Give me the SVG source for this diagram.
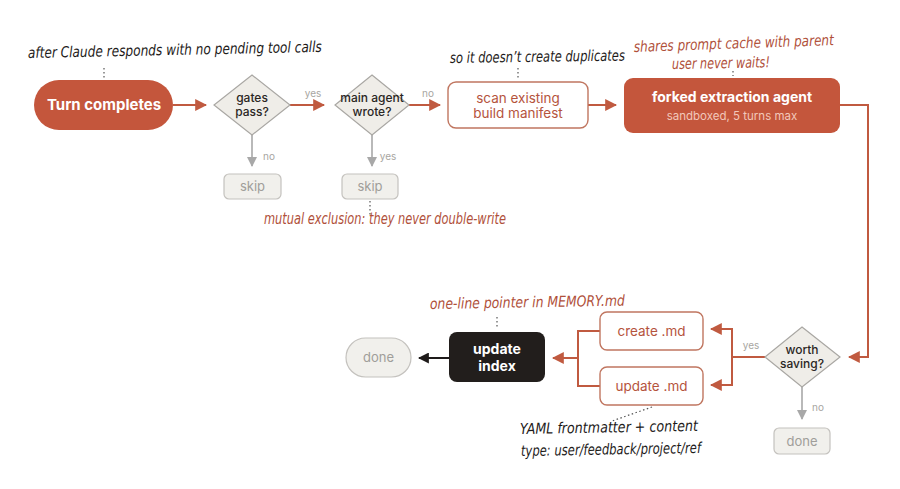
<svg xmlns="http://www.w3.org/2000/svg" width="900" height="489" viewBox="0 0 900 489">
<defs>
<style>
.bg{fill:#ffffff}
.orange{fill:#c4563c}
.diam{fill:#efede8;stroke:#a9a7a3;stroke-width:1.2}
.skip{fill:#f1f0ec;stroke:#c4c2be;stroke-width:1.2}
.outl{fill:#ffffff;stroke:#c07660;stroke-width:1.4}
.t{font-family:"Inter","Liberation Sans",sans-serif;text-anchor:middle}
.tw{fill:#ffffff;font-weight:700}
.td{fill:#2a2624;font-weight:500;font-size:12px}
.tg{fill:#a09e9a;font-size:13px}
.to{fill:#b5543d;font-size:13.5px}
.lbl{font-family:"Inter","Liberation Sans",sans-serif;fill:#a8a6a2;font-size:10px}
.hand{font-family:"DejaVu Sans","Noto Sans",sans-serif;font-style:italic;font-size:15px}
.hk{fill:#1e1b1a}
.ho{fill:#b0503a}
.co{stroke:#c05a40;stroke-width:2;fill:none}
.cg{stroke:#a8a8a8;stroke-width:1.6;fill:none}
.ck{stroke:#1e1b1a;stroke-width:2;fill:none}
.dot{stroke:#555;stroke-width:1.2;stroke-dasharray:1.5 2.5;fill:none}
</style>
<marker id="ao" viewBox="0 0 10 10" refX="9" refY="5" markerWidth="12" markerHeight="12" markerUnits="userSpaceOnUse" orient="auto"><path d="M0,0 L10,5 L0,10 z" fill="#c05a40"/></marker>
<marker id="ag" viewBox="0 0 10 10" refX="9" refY="5" markerWidth="10" markerHeight="10" markerUnits="userSpaceOnUse" orient="auto"><path d="M0,0 L10,5 L0,10 z" fill="#a8a8a8"/></marker>
<marker id="ak" viewBox="0 0 10 10" refX="9" refY="5" markerWidth="11" markerHeight="11" markerUnits="userSpaceOnUse" orient="auto"><path d="M0,0 L10,5 L0,10 z" fill="#1e1b1a"/></marker>
</defs>
<rect class="bg" x="0" y="0" width="900" height="489"/>

<g id="connectors">
<path class="co" d="M173,105 H206" marker-end="url(#ao)"/>
<path class="co" d="M290,105 H324" marker-end="url(#ao)"/>
<path class="co" d="M409,105 H440" marker-end="url(#ao)"/>
<path class="co" d="M588,105 H616" marker-end="url(#ao)"/>
<path class="co" d="M840,105 H868 V357 H849" marker-end="url(#ao)"/>
<path class="cg" d="M252,135 V166" marker-end="url(#ag)"/>
<path class="cg" d="M372,135 V166" marker-end="url(#ag)"/>
<path class="cg" d="M802,387 V419" marker-end="url(#ag)"/>
<path class="co" d="M765,357 H732 V329 H711" marker-end="url(#ao)"/>
<path class="co" d="M732,357 V385 H711" marker-end="url(#ao)"/>
<path class="co" d="M600,331 H578 V386 H600"/>
<path class="co" d="M578,358 H553" marker-end="url(#ao)"/>
<path class="ck" d="M449,358 H419" marker-end="url(#ak)"/>
<text class="lbl" x="313" y="97" text-anchor="middle">yes</text>
<text class="lbl" x="428" y="97" text-anchor="middle">no</text>
<text class="lbl" x="269" y="160" text-anchor="middle">no</text>
<text class="lbl" x="388" y="160" text-anchor="middle">yes</text>
<text class="lbl" x="751" y="349" text-anchor="middle">yes</text>
<text class="lbl" x="818" y="411" text-anchor="middle">no</text>
<path class="dot" d="M104,68 V78"/>
<path class="dot" d="M518,68 V80"/>
<path class="dot" d="M733,71 V76"/>
<path class="dot" d="M370,201 V216"/>
<path class="dot" d="M497,317 V327"/>
<path class="dot" d="M652,407 L612,421"/>
</g>

<g id="turn-completes">
<rect class="orange" x="34" y="80" width="139" height="50" rx="25"/>
<text class="t tw" x="104" y="110" font-size="15">Turn completes</text>
</g>

<g id="gates-pass">
<polygon class="diam" points="252,75 290,105 252,135 214,105"/>
<text class="t td" x="252" y="102">gates</text>
<text class="t td" x="252" y="116">pass?</text>
</g>

<g id="skip-1">
<rect class="skip" x="224" y="174" width="57" height="25" rx="5"/>
<text class="t tg" x="252.5" y="191">skip</text>
</g>

<g id="main-agent-wrote">
<polygon class="diam" points="372,75 409,105 372,135 335,105"/>
<text class="t td" x="372" y="102">main agent</text>
<text class="t td" x="372" y="116">wrote?</text>
</g>

<g id="skip-2">
<rect class="skip" x="342" y="174" width="56" height="25" rx="5"/>
<text class="t tg" x="370" y="191">skip</text>
</g>

<g id="scan-manifest">
<rect class="outl" x="448" y="82" width="140" height="46" rx="8"/>
<text class="t to" x="518" y="103">scan existing</text>
<text class="t to" x="518" y="118">build manifest</text>
</g>

<g id="forked-agent">
<rect class="orange" x="624" y="78" width="216" height="55" rx="9"/>
<text class="t tw" x="732" y="102" font-size="14">forked extraction agent</text>
<text class="t" x="732" y="120" font-size="11.5" fill="#f2c8bb">sandboxed, 5 turns max</text>
</g>

<g id="worth-saving">
<polygon class="diam" points="802,327 840,357 802,387 765,357"/>
<text class="t td" x="802" y="354">worth</text>
<text class="t td" x="802" y="368">saving?</text>
</g>

<g id="done-right">
<rect class="skip" x="774" y="428" width="56" height="26" rx="5"/>
<text class="t tg" x="802" y="446">done</text>
</g>

<g id="create-md">
<rect class="outl" x="600" y="312" width="103" height="38" rx="7"/>
<text class="t to" x="651.5" y="336">create .md</text>
</g>

<g id="update-md">
<rect class="outl" x="600" y="367" width="103" height="38" rx="7"/>
<text class="t to" x="651.5" y="391">update .md</text>
</g>

<g id="update-index">
<rect x="449" y="332" width="96" height="50" rx="8" fill="#221e1c"/>
<text class="t tw" x="497" y="354" font-size="14">update</text>
<text class="t tw" x="497" y="371" font-size="14">index</text>
</g>

<g id="done-left">
<rect class="skip" x="346" y="338" width="65" height="39" rx="19.5"/>
<text class="t tg" x="378.5" y="362">done</text>
</g>

<g id="annotations">
<text class="hand hk" x="28" y="58" textLength="294" lengthAdjust="spacingAndGlyphs" transform="rotate(-1.2 28 58)">after Claude responds with no pending tool calls</text>
<text class="hand hk" x="450" y="63" textLength="175" lengthAdjust="spacingAndGlyphs" transform="rotate(-0.8 450 63)">so it doesn’t create duplicates</text>
<text class="hand ho" x="634" y="52" textLength="200" lengthAdjust="spacingAndGlyphs" transform="rotate(-2 634 52)">shares prompt cache with parent</text>
<text class="hand ho" x="672" y="69" textLength="98" lengthAdjust="spacingAndGlyphs" transform="rotate(-1 672 69)">user never waits!</text>
<text class="hand ho" x="264" y="224" textLength="242" lengthAdjust="spacingAndGlyphs">mutual exclusion: they never double-write</text>
<text class="hand ho" x="430" y="309" textLength="195" lengthAdjust="spacingAndGlyphs" transform="rotate(-1 430 309)">one-line pointer in MEMORY.md</text>
<text class="hand hk" x="520" y="434" textLength="178" lengthAdjust="spacingAndGlyphs" transform="rotate(-1 520 434)">YAML frontmatter + content</text>
<text class="hand hk" x="521" y="456" textLength="180" lengthAdjust="spacingAndGlyphs" transform="rotate(-1 521 456)">type: user/feedback/project/ref</text>
</g>
</svg>
